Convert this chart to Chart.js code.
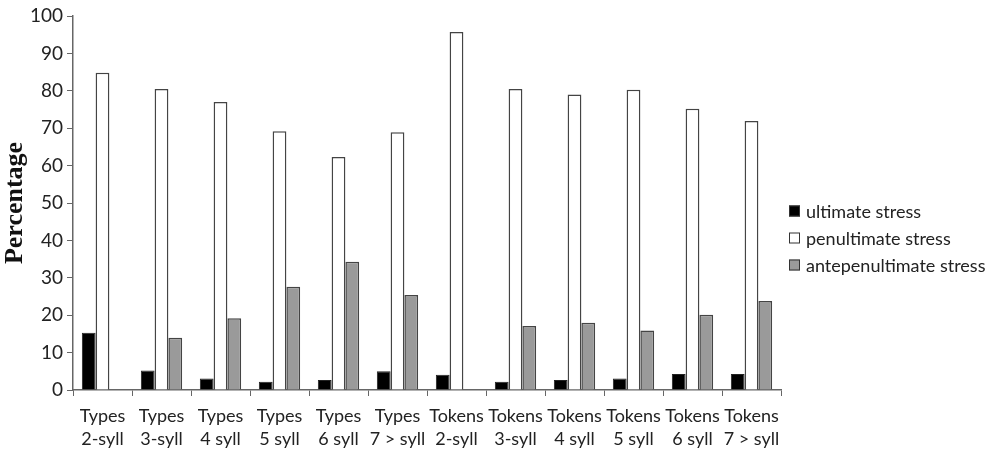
<!DOCTYPE html>
<html>
<head>
<meta charset="utf-8">
<script src="https://cdn.jsdelivr.net/npm/chart.js@4/dist/chart.umd.min.js"></script>
<style>
  html, body { margin: 0; padding: 0; background: #fff; }
  #wrap { width: 991px; height: 450px; }
</style>
</head>
<body>
<div id="wrap"><canvas id="myChart" width="991" height="450"></canvas></div>
<script>
let categories = [
  ["Types", "2-syll"], ["Types", "3-syll"], ["Types", "4 syll"], ["Types", "5 syll"],
  ["Types", "6 syll"], ["Types", "7 > syll"], ["Tokens", "2-syll"], ["Tokens", "3-syll"],
  ["Tokens", "4 syll"], ["Tokens", "5 syll"], ["Tokens", "6 syll"], ["Tokens", "7 > syll"]
];
let ultimate = [15.3, 5.2, 3.1, 2.2, 2.7, 5.0, 4.1, 2.2, 2.7, 3.1, 4.3, 4.3];
let penultimate = [84.8, 80.5, 77.0, 69.2, 62.3, 68.9, 95.7, 80.5, 79.0, 80.3, 75.2, 71.9];
let antepenultimate = [0, 14.0, 19.2, 27.6, 34.3, 25.4, 0, 17.1, 18.0, 15.9, 20.1, 23.8];
let yTicks = [0, 10, 20, 30, 40, 50, 60, 70, 80, 90, 100];

const FONT = "Lato, 'Open Sans', sans-serif";

// legend drawn by hand so it sits where the original one does
const sideLegend = {
  id: 'sideLegend',
  afterDraw(chart) {
    const ctx = chart.ctx;
    const x = chart.chartArea.right + 8;
    let y = 211;
    ctx.save();
    ctx.font = "18px " + FONT;
    ctx.textBaseline = 'middle';
    for (let ds of chart.data.datasets) {
      ctx.fillStyle = ds.backgroundColor;
      ctx.fillRect(x, y - 5.5, 11, 11);
      ctx.strokeStyle = '#333';
      ctx.lineWidth = 1;
      ctx.strokeRect(x + 0.5, y - 5, 10, 10);
      ctx.fillStyle = '#222';
      ctx.fillText(ds.label, x + 17, y + 1);
      y = y + 27;
    }
    ctx.restore();
  }
};

function render() {
  var ctx = document.getElementById("myChart").getContext('2d');
  new Chart(ctx, {
    type: 'bar',
    data: {
      labels: categories,
      datasets: [
        { label: "ultimate stress", data: ultimate, backgroundColor: '#000000', borderColor: '#222', borderWidth: 1 },
        { label: "penultimate stress", data: penultimate, backgroundColor: '#ffffff', borderColor: '#444', borderWidth: 1.5 },
        { label: "antepenultimate stress", data: antepenultimate, backgroundColor: '#9a9a9a', borderColor: '#444', borderWidth: 1.5 }
      ]
    },
    options: {
      responsive: false,
      animation: false,
      layout: { padding: { left: 0, right: 210, top: 16, bottom: 0 } },
      datasets: { bar: { categoryPercentage: 0.7, barPercentage: 1.0, borderSkipped: 'bottom' } },
      plugins: { legend: { display: false }, tooltip: { enabled: false } },
      scales: {
        x: {
          grid: { display: true, drawOnChartArea: false, color: '#666', tickLength: 6, offset: true },
          border: { color: '#666', width: 1.5 },
          ticks: { color: '#222', font: { family: FONT, size: 18, lineHeight: 1.3 }, padding: 8, maxRotation: 0, autoSkip: false },
          afterFit(scale) { scale.height = 60; }
        },
        y: {
          min: 0, max: 100,
          afterBuildTicks(scale) { scale.ticks = yTicks.map(v => ({ value: v })); },
          grid: { display: true, drawOnChartArea: false, color: '#666', tickLength: 6 },
          border: { color: '#666', width: 1.5 },
          ticks: { color: '#222', font: { family: FONT, size: 19 }, padding: 4 },
          title: { display: true, text: 'Percentage', color: '#111', font: { family: "'Liberation Serif', 'DejaVu Serif', serif", size: 26, weight: 'bold' }, padding: 0 },
          afterFit(scale) { scale.width = 73; }
        }
      }
    },
    plugins: [sideLegend]
  });
}

render();
</script>
</body>
</html>
